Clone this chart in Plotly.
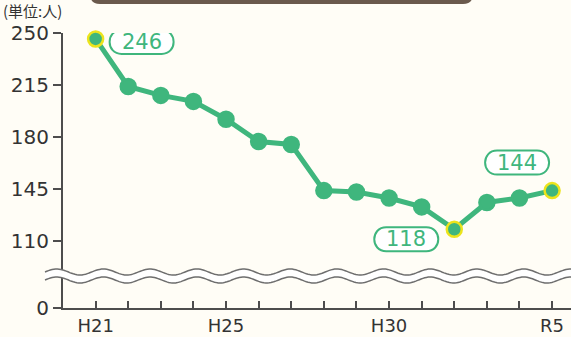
import numpy as np
import plotly.graph_objects as go

years = ["H21", "H22", "H23", "H24", "H25", "H26", "H27", "H28",
         "H29", "H30", "H31", "R2", "R3", "R4", "R5"]
values = [246, 214, 208, 204, 192, 177, 175, 144, 143, 139, 133, 118, 136, 139, 144]
tick_labels = ["H21", "", "", "", "H25", "", "", "", "", "H30", "", "", "", "", "R5"]
y_ticks = [110, 145, 180, 215, 250]
highlight = {0: (46, -3), 11: (-48, -10), 14: (-35, 28)}  # label offsets (px, up positive)

GREEN = "#3fb67d"
YELLOW = "#ece41c"
AXIS = "#4d4d4d"
ZERO_POS = 65  # axis bottom, drawn as "0" below the break

x = list(range(len(years)))
fig = go.Figure()
fig.add_trace(go.Scatter(
    x=x, y=values, mode="lines+markers",
    line=dict(color=GREEN, width=5),
    marker=dict(size=15, color=GREEN,
                line=dict(color=[YELLOW if i in highlight else GREEN for i in x], width=2.5)),
    cliponaxis=False, hoverinfo="skip"))

shapes = []
annotations = []

def pill(cx, cy, w, h):
    r = h / 2
    k = r * 4 / 3
    x0, x1 = cx - w / 2 + r, cx + w / 2 - r
    yt, yb = cy + r, cy - r
    return (f"M{x0},{yt} L{x1},{yt} C{x1 + k},{yt} {x1 + k},{yb} {x1},{yb} "
            f"L{x0},{yb} C{x0 - k},{yb} {x0 - k},{yt} {x0},{yt} Z")

for i, (dx, dy) in highlight.items():
    shapes.append(dict(type="path", xref="x", yref="y", xsizemode="pixel", ysizemode="pixel",
                       xanchor=i, yanchor=values[i], path=pill(dx, dy, 64, 24),
                       line=dict(color=GREEN, width=2), fillcolor="white", layer="above"))
    annotations.append(dict(x=i, y=values[i], xref="x", yref="y", text=str(values[i]),
                            showarrow=True, arrowcolor="rgba(0,0,0,0)", ax=dx, ay=-dy,
                            font=dict(size=21, color=GREEN, family="DejaVu Sans")))

# wavy axis break
xs = np.linspace(-18, 510, 300)
phase = 2 * np.pi * (xs + 18) / 46.7
up = 36 + 3 * np.sin(phase)
lo = 28 + 3 * np.sin(phase)
def pts(xa, ya):
    return " ".join(f"L{a:.1f},{b:.1f}" for a, b in zip(xa, ya))
band = f"M{xs[0]:.1f},{up[0]:.1f} " + pts(xs, up) + " " + pts(xs[::-1], lo[::-1]) + " Z"
shapes.append(dict(type="path", xref="paper", yref="paper", xsizemode="pixel", ysizemode="pixel",
                   xanchor=0, yanchor=0, path=band, line=dict(width=0), fillcolor="white", layer="above"))
for yy in (up, lo):
    p = f"M{xs[0]:.1f},{yy[0]:.1f} " + pts(xs, yy)
    shapes.append(dict(type="path", xref="paper", yref="paper", xsizemode="pixel", ysizemode="pixel",
                       xanchor=0, yanchor=0, path=p, line=dict(color="#6e6e6e", width=1.5), layer="above"))

# brown banner at top
bx0, bx1, by0, by1, br = 27, 410, 29, 45, 10
banner = (f"M{bx0},{by1} L{bx0},{by0 + br} Q{bx0},{by0} {bx0 + br},{by0} "
          f"L{bx1 - br},{by0} Q{bx1},{by0} {bx1},{by0 + br} L{bx1},{by1} Z")
shapes.append(dict(type="path", xref="paper", yref="paper", xsizemode="pixel", ysizemode="pixel",
                   xanchor=0, yanchor=1, path=banner, line=dict(width=0), fillcolor="#6b5a4d"))

annotations.append(dict(x=-0.122, y=1.08, xref="paper", yref="paper", text="(単位:人)",
                        showarrow=False, xanchor="left", yanchor="middle",
                        font=dict(size=15, color="#333333", family="Noto Sans CJK JP")))

fig.update_layout(
    width=571, height=337,
    margin=dict(l=63, r=0, t=33, b=29),
    paper_bgcolor="#fffdf6", plot_bgcolor="rgba(0,0,0,0)",
    showlegend=False,
    shapes=shapes, annotations=annotations,
    xaxis=dict(range=[-1, 14.58], tickvals=x, ticktext=tick_labels, ticks="inside",
               ticklen=7, tickwidth=1.5, tickcolor=AXIS, showline=True, linecolor=AXIS,
               linewidth=2, showgrid=False, zeroline=False, fixedrange=True, automargin=False,
               tickfont=dict(size=18, color="#333333", family="DejaVu Sans")),
    yaxis=dict(range=[ZERO_POS, 250], tickvals=[ZERO_POS] + y_ticks,
               ticktext=["0"] + [str(v) for v in y_ticks], ticks="outside",
               ticklen=8, tickwidth=2, tickcolor=AXIS, showline=True, linecolor=AXIS,
               linewidth=2, showgrid=False, zeroline=False, fixedrange=True, automargin=False,
               tickfont=dict(size=20, color="#333333", family="DejaVu Sans")),
)

fig.write_html("out.html", config={"displayModeBar": False},
               post_script="document.body.style.margin='0';document.body.style.overflow='hidden';")
